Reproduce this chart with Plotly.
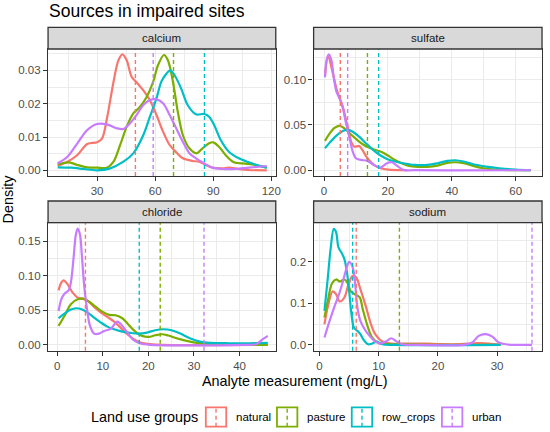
import plotly.graph_objects as go
from plotly.subplots import make_subplots

groups = ["natural", "pasture", "row_crops", "urban"]
colors = ["#F8766D", "#7CAE00", "#00BFC4", "#C77CFF"]
analytes = ["calcium", "sulfate", "chloride", "sodium"]

# ---- calcium densities
ca_natural_x = [9.6, 14.7, 19.8, 24.9, 30, 32.6, 35.1, 38.5, 41, 43.1, 45.3, 47.9, 50.4, 53.9, 57.3,
                60.7, 64.1, 67.5, 70.9, 74.3, 79.4, 82.8, 86.2, 89.6, 94.7, 98.1, 103, 108, 117.7]
ca_natural_y = [0.0014, 0.0026, 0.0046, 0.0079, 0.0084, 0.0096, 0.0156, 0.0266, 0.033, 0.0348, 0.033,
                0.028, 0.0264, 0.024, 0.021, 0.0166, 0.0116, 0.0076, 0.0054, 0.0036, 0.0028, 0.0026,
                0.0016, 0.0008, 0.0006, 0.0008, 0.0004, 0.0001, 0.0]
ca_pasture_x = [9.6, 15.5, 19.8, 24.9, 30, 35.1, 38.5, 41.9, 45.3, 48.7, 52.1, 55.6, 59, 61.5, 64.6,
                66.6, 69.2, 71.7, 74.3, 77.7, 81.4, 84.5, 87.9, 90, 93, 96.4, 100.7, 106.7, 111.8, 117.7]
ca_pasture_y = [0.0018, 0.0024, 0.0016, 0.0009, 0.0008, 0.0008, 0.0026, 0.0076, 0.0131, 0.0171, 0.019,
                0.022, 0.0266, 0.0316, 0.0346, 0.033, 0.0266, 0.0176, 0.0106, 0.0066, 0.0051, 0.0066,
                0.0081, 0.0084, 0.0071, 0.0046, 0.0024, 0.002, 0.0016, 0.0008]
ca_row_crops_x = [9.6, 16.4, 23.2, 30, 36.8, 43.6, 48.7, 53.9, 57.3, 60.7, 63.2, 65.8, 67.8, 70, 73.4,
                  76.8, 81.1, 85.4, 87.9, 90.5, 93.9, 98.1, 103.3, 108.4, 113.5, 117.7]
ca_row_crops_y = [0.0009, 0.0008, 0.0004, 0.0, 0.0006, 0.0026, 0.0051, 0.0106, 0.0161, 0.0216, 0.0266,
                  0.029, 0.030, 0.0286, 0.0246, 0.0196, 0.0168, 0.0169, 0.0161, 0.0136, 0.0091, 0.0056,
                  0.0036, 0.0024, 0.0014, 0.0008]
ca_urban_x = [9.6, 14.7, 19.8, 24.9, 30, 35.1, 40.2, 43.6, 47, 50.4, 53.9, 57.3, 60.7, 64.1, 67.5,
              70.9, 74.3, 77.7, 81.1, 84.5, 89.6, 94.7, 101.5, 108.4, 117.7]
ca_urban_y = [0.0021, 0.0041, 0.0081, 0.0121, 0.0139, 0.0138, 0.0126, 0.0124, 0.0141, 0.0166, 0.0196,
              0.0211, 0.0213, 0.0201, 0.0166, 0.0126, 0.0086, 0.0051, 0.0036, 0.0024, 0.0008, 0.0004,
              0.0004, 0.0008, 0.0013]
ca_medians = [49.8, 69.5, 85.5, 59.0]

# ---- sulfate
so4_natural_x = [0.3, 1.3, 2.9, 3.9, 5.1, 5.9, 6.9, 7.8, 8.5, 9.5, 11, 12, 13.6, 15.6, 17.7, 20.2, 24.3, 26]
so4_natural_y = [0.104, 0.126, 0.105, 0.090, 0.078, 0.070, 0.0555, 0.0426, 0.0316, 0.026, 0.0268,
                 0.0224, 0.0132, 0.0059, 0.0022, 0.0007, 0.0, 0.0]
so4_pasture_x = [0.3, 1.8, 3.4, 4.9, 6.4, 8, 10, 12, 14.1, 16.1, 18.2, 20.2, 22.2, 24.3, 26.3, 29.4,
                 32.4, 35.5, 38.6, 41.1, 43.7, 46.7, 49.8, 53.9, 59, 64.7]
so4_pasture_y = [0.0324, 0.0408, 0.047, 0.049, 0.0463, 0.0408, 0.0346, 0.029, 0.025, 0.0224, 0.0199,
                 0.0158, 0.0114, 0.0077, 0.0051, 0.0037, 0.0037, 0.0051, 0.0081, 0.0088, 0.0077,
                 0.0048, 0.0022, 0.0007, 0.0, 0.0]
so4_row_crops_x = [0.3, 1.8, 3.9, 5.9, 7.4, 9, 11, 13.1, 15.1, 17.1, 19.7, 22.2, 25.3, 28.4, 32.4,
                   35.5, 38.6, 41.1, 43.7, 46.7, 50.8, 54.9, 60, 64.7]
so4_row_crops_y = [0.0243, 0.0305, 0.0382, 0.0434, 0.0445, 0.0426, 0.0371, 0.0298, 0.0232, 0.0176,
                   0.0125, 0.0096, 0.0074, 0.0059, 0.0059, 0.0077, 0.0103, 0.011, 0.0096, 0.0066,
                   0.004, 0.0022, 0.0007, 0.0]
so4_urban_x = [0.3, 0.8, 1.5, 2.3, 3.1, 3.9, 5.1, 5.9, 6.9, 8, 9, 10, 11.5, 13.6, 15.6, 17.7, 19.7,
               21.2, 22.8, 24.8, 28.4, 64.7]
so4_urban_y = [0.1026, 0.1217, 0.128, 0.1217, 0.1015, 0.0868, 0.0776, 0.0684, 0.0518, 0.0353, 0.0206,
               0.0132, 0.0114, 0.0103, 0.0059, 0.0029, 0.0077, 0.0088, 0.0051, 0.0004, 0.0, 0.0]
so4_medians = [5.1, 13.6, 17.1, 7.4]

# ---- chloride
cl_natural_x = [0.3, 0.9, 1.4, 2.3, 3.4, 4.5, 5.6, 6.7, 8.1, 9.6, 11, 12.5, 13.9, 15.4, 16.8, 18.3,
                20.4, 23.3, 46.2]
cl_natural_y = [0.0788, 0.09, 0.0933, 0.0875, 0.0755, 0.0683, 0.0668, 0.0635, 0.0548, 0.0466, 0.0404,
                0.0337, 0.025, 0.0154, 0.0082, 0.0034, 0.001, 0.0, 0.0]
cl_pasture_x = [0.3, 1.6, 3, 4.5, 5.6, 7, 8.5, 9.9, 11.4, 12.8, 14.3, 15.7, 17.2, 18.6, 20.1, 21.5,
                23, 24.4, 26.2, 28.4, 30.6, 33.5, 37.8, 46.2]
cl_pasture_y = [0.0274, 0.0418, 0.0587, 0.0659, 0.0668, 0.0625, 0.0548, 0.048, 0.0433, 0.0428, 0.0385,
                0.0288, 0.0188, 0.013, 0.0115, 0.0139, 0.0154, 0.0135, 0.0096, 0.0058, 0.0029, 0.001,
                0.0, 0.0]
cl_row_crops_x = [0.3, 1.6, 3, 4.1, 5.2, 6.7, 8.1, 9.6, 11, 12.5, 14.3, 16.1, 17.9, 19.7, 21.5, 23.3,
                  25.1, 27, 29.1, 31.3, 33.5, 37.8, 42.2, 46.2]
cl_row_crops_y = [0.0385, 0.0452, 0.051, 0.0529, 0.0519, 0.0466, 0.0394, 0.0322, 0.0264, 0.0226,
                  0.0192, 0.0173, 0.0163, 0.0178, 0.0212, 0.0226, 0.0212, 0.0163, 0.0096, 0.0048,
                  0.0029, 0.0024, 0.0024, 0.0029]
cl_urban_x = [0.3, 0.9, 1.6, 2.5, 3, 3.6, 4.1, 4.5, 5, 5.4, 5.9, 6.5, 7.2, 8.1, 9.2, 10.3, 11.7, 13.2,
              14.3, 15.4, 16.8, 18.3, 20.4, 40.7, 43.6, 45.1, 46.2]
cl_urban_y = [0.049, 0.0659, 0.074, 0.0788, 0.09, 0.126, 0.1596, 0.168, 0.1596, 0.1308, 0.0875, 0.0538,
              0.0274, 0.0163, 0.0163, 0.0202, 0.0231, 0.0337, 0.0274, 0.0178, 0.0067, 0.0019, 0.0,
              0.0, 0.001, 0.0082, 0.013]
cl_medians = [6.2, 22.6, 18.0, 32.2]

# ---- sodium
na_natural_x = [0.83, 1.4, 2.2, 2.8, 3.4, 4.2, 4.9, 5.6, 6.2, 6.9, 7.8, 8.6, 9.4, 10.6, 12.2, 15,
                17.8, 20.6, 23.9, 26.7, 28.6, 30.6]
na_natural_y = [0.0498, 0.0916, 0.1285, 0.122, 0.1044, 0.114, 0.146, 0.166, 0.162, 0.134, 0.094,
                0.0538, 0.0257, 0.008, 0.0032, 0.0032, 0.0032, 0.0016, 0.0016, 0.004, 0.0032, 0.0]
na_pasture_x = [0.83, 1.4, 2.1, 2.8, 3.4, 4.2, 4.7, 5.3, 6.1, 6.8, 7.3, 8.1, 8.9, 10, 11.7, 15, 20.6, 30.6]
na_pasture_y = [0.0659, 0.106, 0.1478, 0.1574, 0.1526, 0.1574, 0.150, 0.1285, 0.1205, 0.114, 0.086,
                0.0458, 0.0177, 0.0048, 0.0016, 0.001, 0.0, 0.0]
na_row_crops_x = [0.83, 1.4, 1.9, 2.4, 2.8, 3.2, 3.7, 4.2, 4.6, 5, 5.4, 5.8, 6.4, 6.9, 7.5, 8.2, 8.9,
                  9.7, 10.6, 12.8, 30.6]
na_row_crops_y = [0.082, 0.162, 0.2345, 0.279, 0.271, 0.2345, 0.2225, 0.2064, 0.178, 0.130, 0.0739,
                  0.0418, 0.0337, 0.0257, 0.0112, 0.0016, 0.0032, 0.008, 0.0016, 0.0, 0.0]
na_urban_x = [0.83, 1.7, 2.5, 3.3, 3.9, 4.6, 5, 5.4, 5.8, 6.4, 6.9, 7.8, 8.6, 9.4, 10.3, 11.4, 12.1,
              12.9, 13.9, 16.1, 24.4, 25.8, 26.9, 28.1, 29.2, 30.3, 31.7, 35.9]
na_urban_y = [0.0177, 0.0578, 0.0916, 0.122, 0.150, 0.1863, 0.200, 0.194, 0.174, 0.090, 0.0578, 0.0337,
              0.0193, 0.008, 0.0032, 0.0096, 0.016, 0.0096, 0.0016, 0.0, 0.0, 0.0056, 0.0217, 0.0257,
              0.020, 0.0056, 0.001, 0.0]
na_medians = [6.2, 13.5, 5.6, 35.9]

curves = {
    "calcium": [(ca_natural_x, ca_natural_y), (ca_pasture_x, ca_pasture_y),
                (ca_row_crops_x, ca_row_crops_y), (ca_urban_x, ca_urban_y)],
    "sulfate": [(so4_natural_x, so4_natural_y), (so4_pasture_x, so4_pasture_y),
                (so4_row_crops_x, so4_row_crops_y), (so4_urban_x, so4_urban_y)],
    "chloride": [(cl_natural_x, cl_natural_y), (cl_pasture_x, cl_pasture_y),
                 (cl_row_crops_x, cl_row_crops_y), (cl_urban_x, cl_urban_y)],
    "sodium": [(na_natural_x, na_natural_y), (na_pasture_x, na_pasture_y),
               (na_row_crops_x, na_row_crops_y), (na_urban_x, na_urban_y)],
}
medians = {"calcium": ca_medians, "sulfate": so4_medians, "chloride": cl_medians, "sodium": na_medians}

# axis setup per panel: x range, x step, y range, y step, y format
axis_cfg = {
    "calcium": ([4.65, 122.35], 30, [-0.0017, 0.0364], 0.01, ".2f"),
    "sulfate": ([-3.25, 68.25], 20, [-0.0064, 0.134], 0.05, ".2f"),
    "chloride": ([-2.0, 47.95], 10, [-0.0084, 0.1766], 0.05, ".2f"),
    "sodium": ([-1.0, 37.6], 10, [-0.014, 0.294], 0.1, ".1f"),
}

W, H = 550, 432
FONT = "Liberation Sans, Arial, sans-serif"
col_px = [(48.5, 278.3), (316.5, 547.0)]
row_px = [(49.0, 176.0), (222.7, 350.7)]
strip_h = 21.7


def px(x):
    return x / W


def py(y):
    return 1 - y / H


fig = make_subplots(rows=2, cols=2)

for i, name in enumerate(analytes):
    r, c = i // 2 + 1, i % 2 + 1
    for g, (xs, ys) in enumerate(curves[name]):
        fig.add_trace(go.Scatter(x=xs, y=ys, mode="lines", name=groups[g], showlegend=False,
                                 line=dict(color=colors[g], width=2.2, shape="spline", smoothing=0.9),
                                 hoverinfo="skip"),
                      row=r, col=c)
    for g, m in enumerate(medians[name]):
        fig.add_vline(x=m, line=dict(color=colors[g], width=1.4, dash="4px,3px"), row=r, col=c)

    xr, xd, yr, yd, yf = axis_cfg[name]
    x0, x1 = col_px[c - 1]
    t, b = row_px[r - 1]
    grid = dict(showgrid=True, gridcolor="#EBEBEB", gridwidth=1.4, zeroline=False,
                showline=True, mirror=True, linecolor="#333333", linewidth=1.3,
                ticks="outside", ticklen=4, tickwidth=1.2, tickcolor="#333333",
                tickfont=dict(family=FONT, size=11.5, color="#4D4D4D"))
    fig.update_xaxes(range=xr, dtick=xd, tick0=0, domain=[px(x0), px(x1)],
                     minor=dict(dtick=xd / 2, tick0=0, showgrid=True, gridcolor="#EBEBEB",
                                gridwidth=0.7, ticklen=0),
                     **grid, row=r, col=c)
    fig.update_yaxes(range=yr, dtick=yd, tick0=0, tickformat=yf, domain=[py(b), py(t)],
                     minor=dict(dtick=yd / 2, tick0=0, showgrid=True, gridcolor="#EBEBEB",
                                gridwidth=0.7, ticklen=0),
                     **grid, row=r, col=c)

    # facet strip
    fig.add_shape(type="rect", xref="paper", yref="paper", x0=px(x0), x1=px(x1),
                  y0=py(t), y1=py(t - strip_h), fillcolor="#D9D9D9",
                  line=dict(color="#333333", width=1.3), layer="above")
    fig.add_annotation(x=px((x0 + x1) / 2), y=py(t - strip_h / 2), xref="paper", yref="paper",
                       text=name, showarrow=False, xanchor="center", yanchor="middle",
                       font=dict(family=FONT, size=11.5, color="#1A1A1A"))

# titles
fig.add_annotation(x=px(47.5), y=py(11.5), xref="paper", yref="paper", text="Sources in impaired sites",
                   showarrow=False, xanchor="left", yanchor="middle",
                   font=dict(family=FONT, size=17.5, color="black"))
fig.add_annotation(x=px(297.8), y=py(381), xref="paper", yref="paper", text="Analyte measurement (mg/L)",
                   showarrow=False, xanchor="center", yanchor="middle",
                   font=dict(family=FONT, size=14.4, color="black"))
fig.add_annotation(x=px(8.5), y=py(199), xref="paper", yref="paper", text="Density", textangle=-90,
                   showarrow=False, xanchor="center", yanchor="middle",
                   font=dict(family=FONT, size=14.4, color="black"))

# legend drawn by hand to mimic the ggplot keys
fig.add_annotation(x=px(90), y=py(417), xref="paper", yref="paper", text="Land use groups",
                   showarrow=False, xanchor="left", yanchor="middle",
                   font=dict(family=FONT, size=14.4, color="black"))
key_left = [207.7, 279.5, 355.0, 446.0]
key_w, key_t, key_b = 20.6, 407.3, 426.7
for g, name in enumerate(groups):
    kx = key_left[g]
    fig.add_shape(type="rect", xref="paper", yref="paper", x0=px(kx), x1=px(kx + key_w),
                  y0=py(key_b), y1=py(key_t), fillcolor="white",
                  line=dict(color=colors[g], width=1.8))
    fig.add_shape(type="line", xref="paper", yref="paper", x0=px(kx + key_w / 2), x1=px(kx + key_w / 2),
                  y0=py(key_b), y1=py(key_t), line=dict(color=colors[g], width=1.4, dash="4px,3px"))
    fig.add_annotation(x=px(kx + 28), y=py(417), xref="paper", yref="paper", text=name,
                       showarrow=False, xanchor="left", yanchor="middle",
                       font=dict(family=FONT, size=11.5, color="black"))

fig.update_layout(width=W, height=H, margin=dict(l=0, r=0, t=0, b=0),
                  paper_bgcolor="white", plot_bgcolor="white", showlegend=False,
                  font=dict(family=FONT))

# the browser's default body margin would shift the figure by 8px
fig.write_html("out.html", config={"displayModeBar": False},
               post_script="document.body.style.margin='0';")
